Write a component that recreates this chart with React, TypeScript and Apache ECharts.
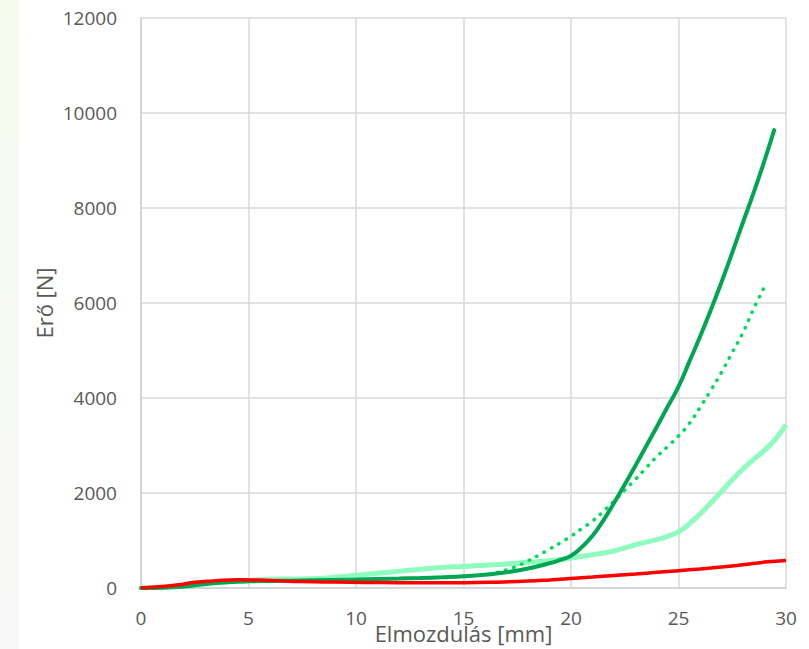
import React, { useEffect, useRef } from "react";
import * as echarts from "echarts";

const xTicks = [0, 5, 10, 15, 20, 25, 30];
const yTicks = [0, 2000, 4000, 6000, 8000, 10000, 12000];

const darkX = [0, 1, 2, 3, 4, 5, 6, 7, 8, 9, 10, 11, 12, 13, 14, 15, 16, 17, 18, 19, 19.5, 20, 20.5, 21, 21.5, 22, 22.5, 23, 23.5, 24, 24.5, 25, 25.5, 26, 26.5, 27, 27.5, 28, 28.5, 29, 29.45];
const darkY = [0, 5, 30, 85, 120, 140, 148, 155, 162, 170, 178, 188, 198, 210, 226, 246, 280, 330, 410, 520, 590, 680, 860, 1100, 1420, 1790, 2180, 2580, 2990, 3400, 3820, 4240, 4760, 5290, 5850, 6440, 7060, 7700, 8330, 9000, 9640];

const dotX = [0, 1, 2, 3, 4, 5, 6, 7, 8, 9, 10, 11, 12, 13, 14, 15, 16, 16.5, 17, 17.5, 18, 18.5, 19, 19.5, 20, 20.5, 21, 21.5, 22, 22.5, 23, 23.5, 24, 24.5, 25, 25.5, 26, 26.5, 27, 27.5, 28, 28.5, 29.05];
const dotY = [0, 5, 30, 85, 120, 140, 148, 155, 162, 170, 178, 188, 198, 210, 226, 246, 285, 320, 380, 460, 570, 690, 820, 950, 1090, 1250, 1410, 1610, 1830, 2060, 2290, 2530, 2770, 2980, 3200, 3460, 3800, 4160, 4540, 4960, 5380, 5880, 6390];

const lightX = [0, 1, 2, 3, 4, 5, 6, 7, 8, 9, 10, 11, 12, 13, 14, 15, 16, 17, 18, 19, 20, 21, 22, 23, 24, 24.5, 25, 25.5, 26, 26.5, 27, 27.5, 28, 28.5, 29, 29.5, 30];
const lightY = [0, 20, 45, 90, 130, 160, 185, 190, 195, 225, 270, 310, 350, 395, 430, 455, 480, 505, 540, 575, 630, 700, 780, 910, 1020, 1090, 1180, 1350, 1560, 1790, 2030, 2280, 2510, 2710, 2900, 3130, 3440];

const redX = [0, 1, 1.8, 2.5, 3.4, 4.5, 5.5, 6.5, 7.5, 9, 10.5, 12, 13.5, 15, 16.5, 18, 19, 20, 21, 22, 23, 24, 25, 26, 27, 28, 29, 30];
const redY = [0, 30, 70, 120, 150, 175, 168, 150, 135, 125, 118, 112, 108, 110, 122, 145, 170, 200, 230, 265, 295, 330, 365, 400, 440, 490, 545, 580];

const pairs = (xs: number[], ys: number[]) => xs.map((x, i) => [x, ys[i]]);

const FONT = "'Open Sans', 'Noto Sans', sans-serif";

export default function App() {
  const ref = useRef<HTMLDivElement>(null);
  useEffect(() => {
    if (!ref.current) return;
    const chart = echarts.init(ref.current, null, { renderer: "svg", width: 809, height: 649 });
    chart.setOption({
      animation: false,
      backgroundColor: "#ffffff",
      graphic: [
        {
          type: "rect",
          left: 0,
          top: 0,
          shape: { width: 19, height: 649 },
          style: {
            fill: new echarts.graphic.LinearGradient(0, 0, 0, 1, [
              { offset: 0, color: "#f6fbee" },
              { offset: 1, color: "#f8f8f8" },
            ]),
          },
          silent: true,
        },
      ],
      grid: {
        left: 141,
        width: 645,
        top: 18,
        height: 570,
        containLabel: false,
        outerBoundsMode: "none",
      },
      xAxis: {
        type: "value",
        min: 0,
        max: 30,
        interval: 5,
        name: "Elmozdulás [mm]",
        nameLocation: "middle",
        nameGap: 34,
        nameMoveOverlap: false,
        nameTextStyle: { fontFamily: FONT, fontSize: 22, color: "#595959" },
        axisLine: { show: true, lineStyle: { color: "#d0d0d0", width: 1.5 } },
        axisTick: { show: false },
        axisLabel: {
          fontFamily: FONT,
          fontSize: 19,
          color: "#595959",
          margin: 20,
          formatter: (v: number) => (xTicks.includes(v) ? String(v) : ""),
        },
        splitLine: { show: true, lineStyle: { color: "#d9d9d9", width: 1.5 } },
      },
      yAxis: {
        type: "value",
        min: 0,
        max: 12000,
        interval: 2000,
        name: "Erő [N]",
        nameLocation: "middle",
        nameGap: 86,
        nameMoveOverlap: false,
        nameTextStyle: { fontFamily: FONT, fontSize: 22, color: "#595959" },
        axisLine: { show: true, lineStyle: { color: "#d0d0d0", width: 1.5 } },
        axisTick: { show: false },
        axisLabel: {
          fontFamily: FONT,
          fontSize: 19,
          color: "#595959",
          margin: 24,
          formatter: (v: number) => (yTicks.includes(v) ? String(v) : ""),
        },
        splitLine: { show: true, lineStyle: { color: "#d9d9d9", width: 1.5 } },
      },
      series: [
        {
          type: "line",
          data: pairs(lightX, lightY),
          smooth: true,
          showSymbol: false,
          lineStyle: { color: "#8efcbf", width: 5 },
          z: 2,
        },
        {
          type: "line",
          data: pairs(dotX, dotY),
          smooth: true,
          showSymbol: false,
          lineStyle: { color: "#00dd5a", width: 3.5, type: [0.5, 8], cap: "round" },
          z: 3,
        },
        {
          type: "line",
          data: pairs(darkX, darkY),
          smooth: true,
          showSymbol: false,
          lineStyle: { color: "#00a651", width: 4, cap: "round" },
          z: 4,
        },
        {
          type: "line",
          data: pairs(redX, redY),
          smooth: true,
          showSymbol: false,
          lineStyle: { color: "#ff0000", width: 3.5 },
          z: 5,
        },
      ],
    });
    return () => chart.dispose();
  }, []);
  return <div ref={ref} style={{ width: 809, height: 649, position: "absolute", left: 0, top: 0 }} />;
}
